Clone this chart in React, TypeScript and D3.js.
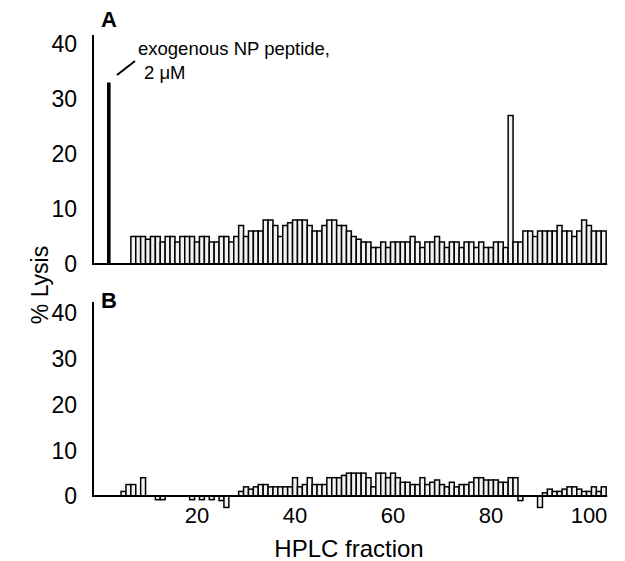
import React from "react";
import * as d3 from "d3";

// Panel A: % lysis per HPLC fraction (fractions 7..103)
const startA = 7;
const lysisA = [
  5, 5, 5, 4.5, 5, 5, 4, 5, 5, 4,
  5, 5, 5, 4, 5, 5, 4, 4, 5, 5,
  4, 5,
  7, 5, 6, 6, 6, 8, 8, 7, 5, 7,
  7.5, 8, 8, 8, 7, 6, 6, 7, 8, 8,
  7, 7, 6, 5, 4.5, 4, 4,
  3, 3, 4, 3, 4, 4, 4, 4, 5, 4,
  3, 4, 4, 5, 4, 3, 4, 4, 3, 4,
  4, 3, 4, 3, 3, 4, 4, 3,
  27,
  4, 4, 6, 6, 5, 6, 6, 6, 6, 7,
  6, 6, 5, 6, 8, 7, 6, 6, 6,
];
// exogenous peptide control
const controlFraction = 2;
const controlLysis = 33;

// Panel B: % lysis per HPLC fraction (fractions 4..103)
const startB = 4;
const lysisB = [
  0,
  1, 2.5, 2.5, 0, 4, 0, 0, -0.8, -0.8, 0,
  0, 0, 0, 0, -0.8, 0, -0.8, 0, -0.8, 0,
  -1, -2.5, 0, 0, 1, 2, 1.5, 2, 2.5, 2.5,
  2, 2, 2, 2, 2, 4, 2, 2.5, 4, 2.5,
  2.5, 2.5, 4, 4, 4, 4.5, 5, 5, 5, 5,
  4, 2, 5, 5, 4, 5, 4, 3, 3, 2.5,
  2.5, 4, 2.5, 3, 3.5, 2.5, 2, 3, 2, 2.5,
  2.5, 3, 4, 4, 3.5, 3.5, 3.5, 3, 3, 4,
  4, -1, 0, 0, 0, -2.5, 0.7, 1.5, 1, 1,
  1.5, 2, 2, 1.5, 1, 1, 2, 1, 2,
];

const yTicks = [0, 10, 20, 30, 40];
const xTicks = [20, 40, 60, 80, 100];

const FONT = "'Liberation Sans', Arial, Helvetica, sans-serif";

export default function App() {
  const x = d3.scaleLinear().domain([0, 100]).range([99, 589]);
  const bw = x(1) - x(0);
  const yA = d3.scaleLinear().domain([0, 40]).range([264, 44]);
  const yB = d3.scaleLinear().domain([0, 40]).range([496, 313]);
  const axisX = 93;
  const rightEnd = x(103) + bw / 2 + 1;

  const dataA = lysisA.map((v, i) => ({ f: startA + i, v }));
  const dataB = lysisB.map((v, i) => ({ f: startB + i, v })).filter((d) => d.v !== 0);

  const bars = (data: { f: number; v: number }[], y: d3.ScaleLinear<number, number>) =>
    data.map((d) => {
      const y0 = y(0);
      const y1 = y(d.v);
      return (
        <rect
          key={d.f}
          x={x(d.f) - bw / 2}
          y={Math.min(y0, y1)}
          width={bw}
          height={Math.abs(y1 - y0)}
          fill="#f2f2f2"
          stroke="#000"
          strokeWidth={1.5}
        />
      );
    });

  const yLabels = (y: d3.ScaleLinear<number, number>) =>
    yTicks.map((t) => (
      <text key={t} x={77} y={y(t)} dy="0.36em" textAnchor="end" fontSize={23} fontFamily={FONT}>
        {t}
      </text>
    ));

  return (
    <svg width={625} height={561} style={{ position: "absolute", left: 0, top: 0, background: "#fff" }}>
      <rect width={625} height={561} fill="#fff" />
      {/* Panel A */}
      <text x={101} y={27} fontSize={22} fontWeight="bold" fontFamily={FONT}>A</text>
      {yLabels(yA)}
      {bars(dataA, yA)}
      <rect
        x={x(controlFraction) - 1.8}
        y={yA(controlLysis)}
        width={3.6}
        height={yA(0) - yA(controlLysis)}
        fill="#000"
      />
      <line x1={axisX} y1={35} x2={axisX} y2={265} stroke="#000" strokeWidth={2} />
      <line x1={axisX} y1={yA(0)} x2={rightEnd} y2={yA(0)} stroke="#000" strokeWidth={2.2} />
      <line x1={117} y1={75} x2={135} y2={61} stroke="#000" strokeWidth={2} />
      <text x={138} y={55} fontSize={18.5} fontFamily={FONT}>exogenous NP peptide,</text>
      <text x={144} y={79} fontSize={18.5} fontFamily={FONT}>2 μM</text>

      {/* Panel B */}
      <text x={101} y={308} fontSize={22} fontWeight="bold" fontFamily={FONT}>B</text>
      {yLabels(yB)}
      {bars(dataB, yB)}
      <line x1={axisX} y1={302} x2={axisX} y2={497} stroke="#000" strokeWidth={2} />
      <line x1={axisX} y1={yB(0)} x2={rightEnd} y2={yB(0)} stroke="#000" strokeWidth={2.2} />
      {xTicks.map((t) => (
        <text key={t} x={x(t)} y={523} textAnchor="middle" fontSize={22} fontFamily={FONT}>
          {t}
        </text>
      ))}
      <text x={349} y={557} textAnchor="middle" fontSize={24} fontFamily={FONT}>HPLC fraction</text>
      <text
        transform="translate(48,285) rotate(-90)"
        textAnchor="middle"
        fontSize={23}
        fontFamily={FONT}
      >
        % Lysis
      </text>
    </svg>
  );
}
